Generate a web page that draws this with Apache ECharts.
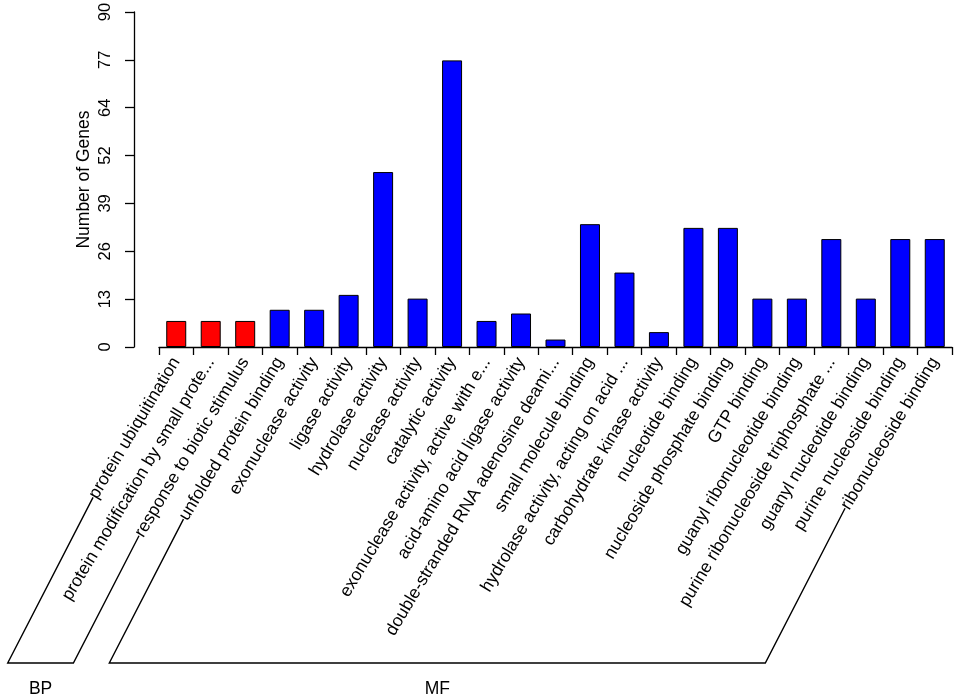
<!DOCTYPE html>
<html>
<head>
<meta charset="utf-8">
<script src="https://cdn.jsdelivr.net/npm/echarts@6/dist/echarts.min.js"></script>
<style>
html,body{margin:0;padding:0;background:#fff;}
#main{width:957px;height:698px;}
</style>
</head>
<body>
<div id="main"></div>
<script>
// GO terms, in plot order
var categories = [
	"protein ubiquitination",
	"protein modification by small prote...",
	"response to biotic stimulus",
	"unfolded protein binding",
	"exonuclease activity",
	"ligase activity",
	"hydrolase activity",
	"nuclease activity",
	"catalytic activity",
	"exonuclease activity, active with e...",
	"acid-amino acid ligase activity",
	"double-stranded RNA adenosine deami...",
	"small molecule binding",
	"hydrolase activity, acting on acid ...",
	"carbohydrate kinase activity",
	"nucleotide binding",
	"nucleoside phosphate binding",
	"GTP binding",
	"guanyl ribonucleotide binding",
	"purine ribonucleoside triphosphate ...",
	"guanyl nucleotide binding",
	"purine nucleoside binding",
	"ribonucleoside binding"
];
// number of genes per term
var geneCounts = [7, 7, 7, 10, 10, 14, 47, 13, 77, 7, 9, 2, 33, 20, 4, 32, 32, 13, 13, 29, 13, 29, 29];
// ontology of each term
var ontology = ["BP","BP","BP","MF","MF","MF","MF","MF","MF","MF","MF","MF","MF","MF","MF","MF","MF","MF","MF","MF","MF","MF","MF"];
var groupNames = ["BP", "MF"];
var groupColors = { BP: "#ff0000", MF: "#0000ff" };
// y axis tick labels as printed (7 equal steps from 0 to 90)
var yTickLabels = [0, 13, 26, 39, 52, 64, 77, 90];
var yMax = 90;

var FONT = '"Liberation Sans", Arial, Helvetica, sans-serif';
var LABEL_SIZE = 17.5;
var LABEL_ROTATE = 59;
var LABEL_MARGIN = 12;

var barData = [];
geneCounts.forEach(function (v, i) {
	barData.push({ value: v, itemStyle: { color: groupColors[ontology[i]] } });
});

var yStep = yMax / (yTickLabels.length - 1);

var myChart = echarts.init(document.getElementById('main'));
var option = {
	backgroundColor: '#fff',
	animation: false,
	grid: {
		left: 159,
		right: 5,
		top: 12,
		bottom: 351,
		containLabel: false,
		outerBoundsMode: 'none'
	},
	xAxis: {
		type: 'category',
		data: categories,
		boundaryGap: true,
		axisLine: { show: true, lineStyle: { color: '#000', width: 1.3 } },
		axisTick: { show: true, alignWithLabel: false, length: 8, lineStyle: { color: '#000', width: 1.3 } },
		axisLabel: {
			interval: 0,
			rotate: LABEL_ROTATE,
			margin: LABEL_MARGIN,
			hideOverlap: false,
			color: '#000',
			fontSize: LABEL_SIZE,
			fontFamily: FONT
		},
		splitLine: { show: false }
	},
	yAxis: {
		type: 'value',
		min: 0,
		max: yMax,
		interval: yStep,
		offset: 25,
		name: 'Number of Genes',
		nameLocation: 'middle',
		nameGap: 41,
		nameMoveOverlap: false,
		nameTextStyle: { color: '#000', fontSize: LABEL_SIZE, fontFamily: FONT },
		axisLine: { show: true, lineStyle: { color: '#000', width: 1.3 } },
		axisTick: { show: true, length: 9, lineStyle: { color: '#000', width: 1.3 } },
		axisLabel: {
			rotate: 90,
			margin: 20,
			color: '#000',
			fontSize: 16.5,
			fontFamily: FONT,
			formatter: function (v) { return yTickLabels[Math.round(v / yStep)]; }
		},
		splitLine: { show: false }
	},
	series: [{
		type: 'bar',
		data: barData,
		barCategoryGap: '42%',
		itemStyle: { borderColor: '#000', borderWidth: 1 }
	}]
};
myChart.setOption(option);

// brackets under the labels, one per ontology
var ctx = document.createElement('canvas').getContext('2d');
ctx.font = LABEL_SIZE + 'px ' + FONT;
var rad = LABEL_ROTATE * Math.PI / 180;
var axisY = myChart.convertToPixel({ yAxisIndex: 0 }, 0);
function labelStart(i) {
	var cx = myChart.convertToPixel({ xAxisIndex: 0 }, i);
	var w = ctx.measureText(categories[i]).width;
	return [cx - w * Math.cos(rad), axisY + LABEL_MARGIN + w * Math.sin(rad)];
}
var bottomY = 663;
var slope = 1.94;
var graphics = [];
groupNames.forEach(function (g) {
	var first = ontology.indexOf(g);
	var last = ontology.lastIndexOf(g);
	var a = labelStart(first);
	var b = labelStart(last);
	var a0 = [a[0] - (bottomY - a[1]) / slope, bottomY];
	var b0 = [b[0] - (bottomY - b[1]) / slope, bottomY];
	graphics.push({
		type: 'polyline',
		shape: { points: [a, a0, b0, b] },
		style: { stroke: '#000', fill: null, lineWidth: 1.4 },
		silent: true
	});
	graphics.push({
		type: 'text',
		x: (a0[0] + b0[0]) / 2,
		y: bottomY + 26,
		style: {
			text: g,
			fill: '#000',
			font: LABEL_SIZE + 'px ' + FONT,
			textAlign: 'center',
			textVerticalAlign: 'middle'
		},
		silent: true
	});
});
myChart.setOption({ graphic: graphics });
</script>
</body>
</html>
